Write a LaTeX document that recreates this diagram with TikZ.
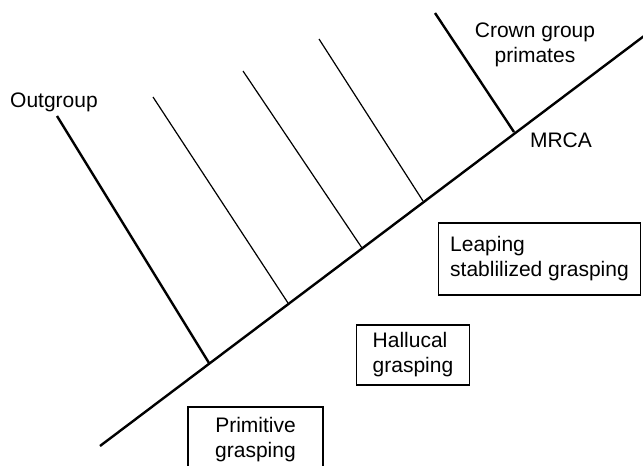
\documentclass[tikz,border=0pt]{standalone}
\usepackage{fontspec}
\setmainfont{Liberation Sans}
\usetikzlibrary{positioning}
\begin{document}
\begin{tikzpicture}[x=1pt,y=-1pt,
  txt/.style={font=\fontsize{21}{25}\selectfont, align=center, inner sep=0pt},
  trait/.style={draw, line width=1.3pt, font=\fontsize{21}{25}\selectfont, align=left, inner ysep=0pt},
  stem/.style={line width=1.2pt},
  main/.style={line width=2.4pt}]
  \clip (0,0) rectangle (643,466);
  \coordinate (root) at (100,446);
  \coordinate (top) at (648,33);
  \draw[main] (root) -- (top);
  \coordinate (node0) at (209,363);
  \coordinate (tip0) at (57,116);
  \draw[main] (node0) -- (tip0);
  \foreach \n/\jx/\jy/\tx/\ty in {1/288/303/153/97, 2/362/248/243/71, 3/423/201/319/39} {
    \coordinate (node\n) at (\jx,\jy);
    \coordinate (tip\n) at (\tx,\ty);
    \draw[stem] (node\n) -- (tip\n);
  }
  \coordinate (mrca) at (514,132);
  \coordinate (crown) at (435,13);
  \draw[main] (mrca) -- (crown);
  \node[txt] (outgroup) at (54,102) {Outgroup};
  \node[txt] (crownlbl) at (535,45) {Crown group\\primates};
  \node[txt] (mrcalbl) at (561,140) {MRCA};
  \node[trait, inner xsep=12pt, minimum height=72pt] (leaping) at (539.5,259) {Leaping\\stablilized grasping};
  \node[trait, inner xsep=16pt, minimum height=60pt] (hallucal) at (413,355) {Hallucal\\grasping};
  \node[trait, align=center, minimum width=135pt, minimum height=66pt] (primitive) at (255.5,440) {Primitive\\grasping};
\end{tikzpicture}
\end{document}
